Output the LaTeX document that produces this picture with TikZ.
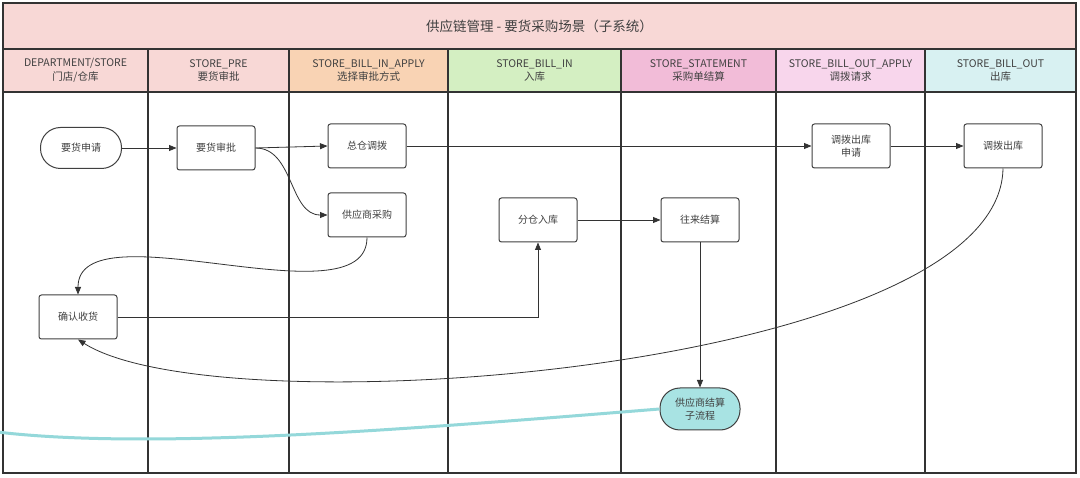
\documentclass[tikz,border=0pt]{standalone}
\usepackage{fontspec}
\setmainfont{Noto Sans CJK SC}
\usetikzlibrary{arrows.meta}
\definecolor{lanepink}{HTML}{F8D8D6}
\definecolor{lanepeach}{HTML}{F9D3B4}
\definecolor{lanegreen}{HTML}{D4EFC2}
\definecolor{lanemag}{HTML}{F2BCD8}
\definecolor{lanelpink}{HTML}{F8D6EC}
\definecolor{lanecyan}{HTML}{D8F1F2}
\definecolor{subfill}{HTML}{A8E3E3}
\definecolor{subline}{HTML}{94D8DA}
\begin{document}
\begin{tikzpicture}[x=1pt,y=-1pt,
  lane/.style={draw=black!80,line width=1.2pt},
  hd/.style={draw=black!80,line width=1.2pt,minimum height=43pt,inner sep=0pt,align=center,text=black!75,font=\fontsize{10.5}{13.5}\selectfont},
  box/.style={draw=black!75,line width=1pt,rounded corners=2.5pt,minimum width=78pt,minimum height=44pt,inner sep=1pt,align=center,text=black!75,font=\fontsize{10}{13}\selectfont},
  term/.style={box,rounded corners=20pt,minimum height=41pt},
  flow/.style={draw=black!80,line width=0.8pt,-{Triangle[length=7.5pt,width=6pt]}}]

  \useasboundingbox (0,0) rectangle (1080,478);
  \fill[white] (0,0) rectangle (1080,478);

  \node[hd,fill=lanepink,minimum width=1073pt,minimum height=46pt,font=\fontsize{13.5}{16}\selectfont] (title) at (539.5,26) {供应链管理 - 要货采购场景（子系统）};
  \node[hd,fill=lanepink,minimum width=145pt] (h1) at (75.5,70.5) {DEPARTMENT/STORE\\门店/仓库};
  \node[hd,fill=lanepink,minimum width=141pt] (h2) at (218.5,70.5) {STORE\_PRE\\要货审批};
  \node[hd,fill=lanepeach,minimum width=159pt] (h3) at (368.5,70.5) {STORE\_BILL\_IN\_APPLY\\选择审批方式};
  \node[hd,fill=lanegreen,minimum width=173pt] (h4) at (534.5,70.5) {STORE\_BILL\_IN\\入库};
  \node[hd,fill=lanemag,minimum width=155pt] (h5) at (698.5,70.5) {STORE\_STATEMENT\\采购单结算};
  \node[hd,fill=lanelpink,minimum width=149pt] (h6) at (850.5,70.5) {STORE\_BILL\_OUT\_APPLY\\调拨请求};
  \node[hd,fill=lanecyan,minimum width=151pt] (h7) at (1000.5,70.5) {STORE\_BILL\_OUT\\出库};

  \draw[lane] (3,92) rectangle (1076,473);
  \foreach \x in {148,289,448,621,776,925}
    \draw[lane] (\x,92) -- (\x,473);

  \node[term,minimum width=81pt] (req) at (81,148) {要货申请};
  \node[box] (apr) at (216,148) {要货审批};
  \node[box] (main) at (367,146) {总仓调拨};
  \node[box] (sup) at (367,215) {供应商采购};
  \node[box] (recv) at (78,317) {确认收货};
  \node[box] (binin) at (538,220) {分仓入库};
  \node[box] (settle) at (700,220) {往来结算};
  \node[box] (outreq) at (851,146) {调拨出库\\申请};
  \node[box] (out) at (1003,146) {调拨出库};
  \node[term,fill=subfill,minimum width=80pt,minimum height=42pt] (subflow) at (700,409) {供应商结算\\子流程};
  \coordinate (edge) at (-3,432);

  \draw[flow] (req) -- (apr);
  \draw[flow] (apr.east) -- (main.west);
  \draw[flow] (apr.east) to[out=0,in=180] (sup.west);
  \draw[flow] (main) -- (outreq);
  \draw[flow] (outreq) -- (out);
  \draw[flow] (sup.south) .. controls (367,325) and (78,205) .. (recv.north);
  \draw[flow] (recv.east) -| (binin.south);
  \draw[flow] (binin) -- (settle);
  \draw[flow] (settle) -- (subflow);
  \draw[flow] (out.south) .. controls (1000,370) and (220,430) .. (recv.south);
  \draw[subline,line width=3pt] (subflow.west) .. controls (400,430) and (150,450) .. (edge);
\end{tikzpicture}
\end{document}
